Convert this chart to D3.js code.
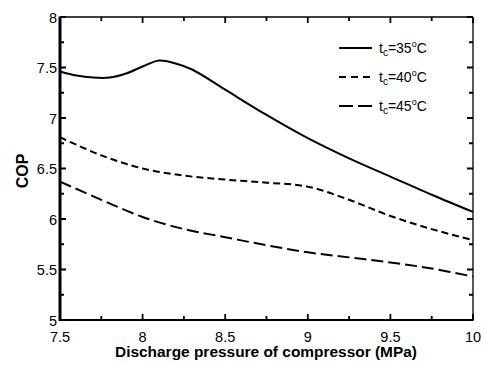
<!DOCTYPE html>
<html>
<head>
<meta charset="utf-8">
<script src="https://cdn.jsdelivr.net/npm/d3@7"></script>
<style>
  html, body { margin: 0; padding: 0; background: #fff; }
  svg { display: block; }
  text { font-family: "Liberation Sans", Arial, sans-serif; fill: #000; }
</style>
</head>
<body>
<svg id="chart" width="485" height="365"></svg>
<script>
// Discharge pressure (MPa) sample points and COP for each gas-cooler outlet temperature
const pressure35 = [7.5, 7.6, 7.7, 7.8, 7.9, 8.0, 8.1, 8.2, 8.3, 8.5, 8.75, 9.0, 9.25, 9.5, 9.75, 10.0];
const cop35      = [7.46, 7.42, 7.40, 7.40, 7.44, 7.51, 7.57, 7.54, 7.48, 7.28, 7.03, 6.80, 6.60, 6.42, 6.24, 6.07];

const pressure40 = [7.5, 7.75, 8.0, 8.25, 8.5, 8.75, 9.0, 9.25, 9.5, 9.75, 10.0];
const cop40      = [6.81, 6.63, 6.50, 6.43, 6.39, 6.36, 6.32, 6.19, 6.03, 5.90, 5.79];

const pressure45 = [7.5, 7.75, 8.0, 8.25, 8.5, 8.75, 9.0, 9.25, 9.5, 9.75, 10.0];
const cop45      = [6.37, 6.19, 6.02, 5.90, 5.82, 5.74, 5.67, 5.62, 5.57, 5.51, 5.43];

const xTickValues = [7.5, 8, 8.5, 9, 9.5, 10];
const xTickLabels = ["7.5", "8", "8.5", "9", "9.5", "10"];
const yTickValues = [5, 5.5, 6, 6.5, 7, 7.5, 8];
const yTickLabels = ["5", "5.5", "6", "6.5", "7", "7.5", "8"];
const seriesTemps = ["35", "40", "45"];

const svg = d3.select("#chart");
const plotL = 60, plotR = 473, plotT = 17, plotB = 320;

const x = d3.scaleLinear().domain([7.5, 10]).range([plotL, plotR]);
const y = d3.scaleLinear().domain([5, 8]).range([plotB, plotT]);

const minorX = [7.75, 8.25, 8.75, 9.25, 9.75];
const minorY = [5.25, 5.75, 6.25, 6.75, 7.25, 7.75];

// Inward tick marks on all four sides, collected into one path
const tickPath = d3.path();
function addXTicks(vals, len) {
  vals.forEach(v => {
    const px = x(v);
    tickPath.moveTo(px, plotB); tickPath.lineTo(px, plotB - len);
    tickPath.moveTo(px, plotT); tickPath.lineTo(px, plotT + len);
  });
}
function addYTicks(vals, len) {
  vals.forEach(v => {
    const py = y(v);
    tickPath.moveTo(plotL, py); tickPath.lineTo(plotL + len, py);
    tickPath.moveTo(plotR, py); tickPath.lineTo(plotR - len, py);
  });
}
addXTicks(xTickValues, 6);
addXTicks(minorX, 4);
addYTicks(yTickValues, 6);
addYTicks(minorY, 4);
svg.append("path").attr("d", tickPath.toString())
  .attr("fill", "none").attr("stroke", "#000").attr("stroke-width", 1.8);

// Frame: heavy left and bottom spines, thin top and right
svg.append("line").attr("x1", plotL).attr("x2", plotR).attr("y1", plotT).attr("y2", plotT)
  .attr("stroke", "#000").attr("stroke-width", 1.3);
svg.append("line").attr("x1", plotR).attr("x2", plotR).attr("y1", plotT).attr("y2", plotB)
  .attr("stroke", "#000").attr("stroke-width", 1.3);
svg.append("line").attr("x1", plotL - 1).attr("x2", plotR + 0.6).attr("y1", plotB).attr("y2", plotB)
  .attr("stroke", "#000").attr("stroke-width", 2.2);
svg.append("line").attr("x1", plotL).attr("x2", plotL).attr("y1", plotT - 0.6).attr("y2", plotB + 1)
  .attr("stroke", "#000").attr("stroke-width", 3);

// Tick labels
svg.append("g").selectAll("text").data(xTickValues).join("text")
  .attr("x", d => x(d)).attr("y", plotB + 22)
  .attr("text-anchor", "middle").attr("font-size", 14.5)
  .text((d, i) => xTickLabels[i]);
svg.append("g").selectAll("text").data(yTickValues).join("text")
  .attr("x", plotL - 3).attr("y", d => y(d) + 5.5)
  .attr("text-anchor", "end").attr("font-size", 14.5)
  .text((d, i) => yTickLabels[i]);

// Axis titles
svg.append("text").attr("x", 266).attr("y", 357)
  .attr("text-anchor", "middle").attr("font-size", 14).attr("font-weight", "bold")
  .attr("textLength", 302).attr("lengthAdjust", "spacingAndGlyphs")
  .text("Discharge pressure of compressor  (MPa)");
svg.append("text").attr("transform", "translate(28,171) rotate(-90)")
  .attr("text-anchor", "middle").attr("font-size", 16).attr("font-weight", "bold")
  .text("COP");

// Curves
const styles = [
  { xs: pressure35, ys: cop35, dash: null },
  { xs: pressure40, ys: cop40, dash: "7,4" },
  { xs: pressure45, ys: cop45, dash: "12,5" }
];
const line = d3.line().x(d => x(d[0])).y(d => y(d[1])).curve(d3.curveCatmullRom.alpha(0.5));
styles.forEach(s => {
  svg.append("path")
    .attr("d", line(d3.zip(s.xs, s.ys)))
    .attr("fill", "none").attr("stroke", "#000").attr("stroke-width", 2)
    .attr("stroke-dasharray", s.dash);
});

// Legend
const legendDash = [null, "7,5", "14,5"];
seriesTemps.forEach((t, i) => {
  const ly = 48 + i * 29;
  svg.append("line").attr("x1", 339).attr("x2", 372).attr("y1", ly).attr("y2", ly)
    .attr("stroke", "#000").attr("stroke-width", 2).attr("stroke-dasharray", legendDash[i]);
  const txt = svg.append("text").attr("x", 379).attr("y", ly + 5).attr("font-size", 14);
  txt.append("tspan").text("t");
  txt.append("tspan").attr("font-size", 10).attr("dy", 3).text("c");
  txt.append("tspan").attr("dy", -3).text("=" + t);
  txt.append("tspan").attr("font-size", 9).attr("dy", -6).text("o");
  txt.append("tspan").attr("dy", 6).text("C");
});
</script>
</body>
</html>
